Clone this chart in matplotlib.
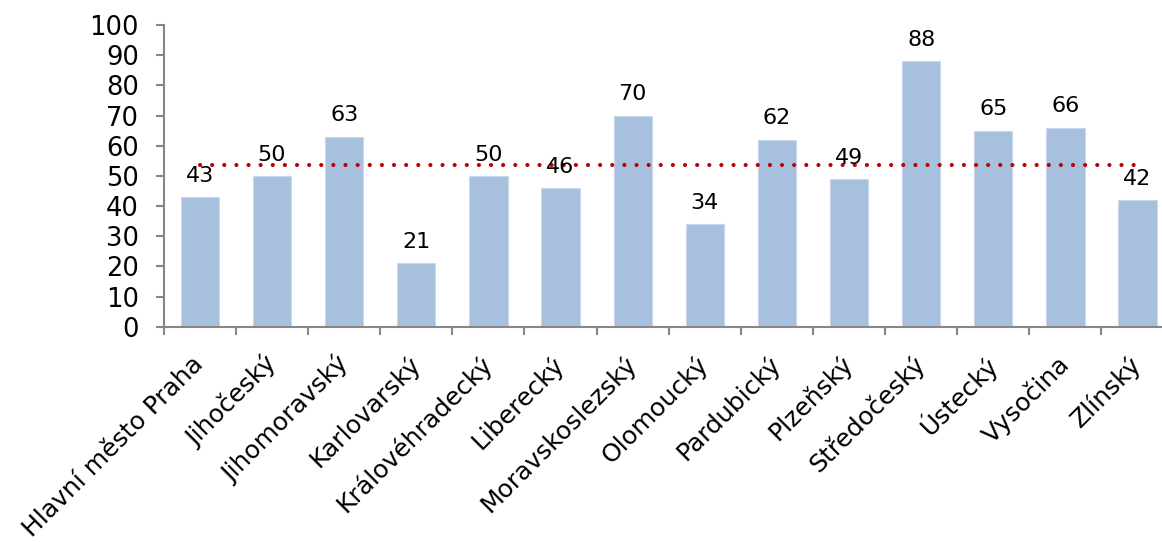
import matplotlib.pyplot as plt

regions = ["Hlavní město Praha", "Jihočeský", "Jihomoravský", "Karlovarský",
           "Královéhradecký", "Liberecký", "Moravskoslezský", "Olomoucký",
           "Pardubický", "Plzeňský", "Středočeský", "Ústecký", "Vysočina",
           "Zlínský"]
values = [43, 50, 63, 21, 50, 46, 70, 34, 62, 49, 88, 65, 66, 42]
average = 53.5
y_ticks = [0, 10, 20, 30, 40, 50, 60, 70, 80, 90, 100]


def main():
    fig = plt.figure(figsize=(11.62, 5.42), dpi=100)
    ax = fig.add_axes([0.141, 0.397, 0.869, 0.557])

    x = list(range(len(regions)))
    ax.bar(x, values, width=0.53, color="#A7C0DE", edgecolor="#C9D8EC",
           linewidth=0.8, zorder=2)

    ax.plot([x[0], x[-1] - 0.05], [average, average], color="#C00000",
            linewidth=3.0, linestyle=(0, (0.01, 2.9)),
            dash_capstyle="round", zorder=3)

    for xi, v in zip(x, values):
        ax.annotate(str(v), (xi, v), xytext=(0, 11),
                    textcoords="offset points", ha="center", va="baseline",
                    fontsize=16, zorder=4)

    ax.set_xlim(-0.5, len(regions) - 0.5)
    ax.set_ylim(0, 100)
    ax.set_yticks(y_ticks)
    ax.tick_params(axis="y", labelsize=18.5, length=6, width=1.5,
                   color="#868686", pad=12)

    ax.set_xticks(x)
    ax.set_xticklabels(regions, rotation=45, ha="right", va="center",
                       rotation_mode="anchor", fontsize=18)
    ax.tick_params(axis="x", length=0, pad=24)
    ax.set_xticks([i - 0.5 for i in range(len(regions) + 1)], minor=True)
    ax.tick_params(axis="x", which="minor", length=6, width=1.5,
                   color="#868686")

    for side in ["top", "right"]:
        ax.spines[side].set_visible(False)
    for side in ["left", "bottom"]:
        ax.spines[side].set_color("#868686")
        ax.spines[side].set_linewidth(1.5)

    fig.savefig("out.png", dpi=100)


if __name__ == "__main__":
    main()
